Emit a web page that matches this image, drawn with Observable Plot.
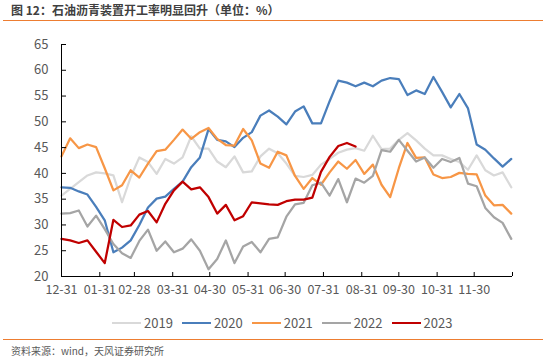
<!DOCTYPE html>
<html><head><meta charset="utf-8">
<script src="https://cdn.jsdelivr.net/npm/d3@7"></script>
<script src="https://cdn.jsdelivr.net/npm/@observablehq/plot@0.6"></script>
<style>
body{margin:0;background:#fff;font-family:"Noto Sans CJK SC","Noto Sans",sans-serif;}
#wrap{position:relative;width:546px;height:359px;overflow:hidden;background:#fff;}
#title{position:absolute;left:11px;top:1px;font-size:12px;font-weight:bold;color:#404040;white-space:nowrap;}
.hr{position:absolute;left:3px;width:540px;height:0;border-top:1.5px solid #ed7d31;}
#chart{position:absolute;left:0;top:0;}
#legend{position:absolute;left:112px;top:313px;display:flex;font-size:13px;color:#595959;white-space:nowrap;}
.item{display:flex;align-items:center;margin-right:9px;}
.sw{width:29px;height:0;border-top:2.5px solid;margin-right:3px;}
#source{position:absolute;left:11px;top:343px;font-size:10px;color:#595959;white-space:nowrap;}
</style>
</head><body>
<div id="wrap">
  <div id="title">图 12：石油沥青装置开工率明显回升（单位：%）</div>
  <div class="hr" style="top:20px"></div>
  <div id="chart"></div>
  <div id="legend"></div>
  <div class="hr" style="top:339px"></div>
  <div id="source">资料来源：wind，天风证券研究所</div>
</div>
<script>
const years = ["2019", "2020", "2021", "2022", "2023"];
const colors = ["#d9d9d9", "#4a7ebb", "#f79646", "#a5a5a5", "#c00000"];

const v2019 = [35.7, 37.0, 38.3, 39.6, 40.2, 40.0, 39.6, 34.4, 39.3, 43.1, 42.2, 39.9, 42.8, 41.9, 43.1, 47.2, 44.8, 44.8, 42.3, 41.2, 43.3, 40.2, 40.4, 43.3, 44.8, 43.9, 41.9, 39.5, 39.3, 39.7, 41.7, 42.8, 44.0, 44.6, 44.9, 44.4, 47.3, 44.7, 44.8, 46.5, 47.8, 46.4, 44.8, 43.5, 43.5, 42.8, 42.2, 40.7, 43.5, 40.6, 39.6, 40.2, 37.3];
const v2020 = [37.3, 37.2, 36.5, 35.9, 33.5, 30.9, 24.7, 25.6, 27.0, 30.0, 33.4, 35.1, 35.5, 37.0, 38.4, 41.2, 43.1, 48.6, 46.5, 46.2, 45.1, 46.9, 48.0, 51.2, 52.2, 51.0, 49.5, 52.0, 53.0, 49.7, 49.7, 54.0, 58.0, 57.6, 56.9, 57.6, 56.9, 58.0, 58.5, 58.3, 55.2, 56.1, 55.4, 58.7, 55.8, 52.8, 55.4, 52.6, 45.6, 44.6, 42.9, 41.3, 42.8];
const v2021 = [43.3, 46.8, 44.9, 45.6, 45.1, 41.0, 36.7, 37.7, 40.6, 39.2, 41.9, 44.3, 44.6, 46.5, 48.5, 46.7, 48.0, 48.8, 46.7, 45.5, 45.4, 48.6, 46.4, 41.9, 41.1, 44.2, 43.5, 39.5, 37.0, 39.1, 37.8, 40.2, 42.3, 40.9, 42.6, 39.9, 41.7, 37.8, 35.4, 41.0, 45.9, 43.0, 43.1, 39.8, 39.1, 39.3, 40.1, 39.9, 39.8, 35.7, 33.8, 33.9, 32.2];
const v2022 = [32.2, 32.3, 32.8, 29.7, 31.8, 29.2, 26.3, 24.5, 23.6, 26.9, 29.1, 25.0, 26.8, 24.7, 25.4, 27.2, 25.0, 21.4, 23.4, 27.0, 22.6, 25.8, 26.7, 24.7, 27.3, 27.6, 31.6, 34.0, 34.3, 37.7, 38.2, 35.7, 38.9, 34.4, 39.0, 38.2, 39.5, 44.5, 44.2, 46.5, 44.4, 42.3, 43.1, 41.1, 42.8, 42.2, 43.0, 38.0, 37.5, 33.3, 31.5, 30.4, 27.3];
const v2023 = [27.3, 27.0, 26.5, 27.0, 24.8, 22.6, 31.0, 29.6, 29.9, 32.0, 32.7, 30.5, 34.1, 36.7, 38.4, 36.9, 37.3, 35.4, 32.2, 33.9, 30.9, 31.7, 34.4, 34.2, 34.0, 33.9, 34.6, 34.9, 34.9, 35.3, 40.3, 43.2, 45.3, 45.9, 45.2];

const xTickDates = ["2022-12-31", "2023-01-31", "2023-02-28", "2023-03-31", "2023-04-30", "2023-05-31", "2023-06-30", "2023-07-31", "2023-08-31", "2023-09-30", "2023-10-31", "2023-11-30", "2023-12-31"];
const xTickLabels = ["12-31", "01-31", "02-28", "03-31", "04-30", "05-31", "06-30", "07-31", "08-31", "09-30", "10-31", "11-30", ""];
const yTicks = [20, 25, 30, 35, 40, 45, 50, 55, 60, 65];

const start = new Date("2022-12-31T00:00:00Z");
const weekDate = i => new Date(start.getTime() + i * 7 * 864e5);
const seriesValues = [v2019, v2020, v2021, v2022, v2023];
const rows = [];
seriesValues.forEach((vals, k) => vals.forEach((v, i) => rows.push({year: years[k], date: weekDate(i), value: v})));
const xTicks = xTickDates.map(s => new Date(s + "T00:00:00Z"));

const W = 546, H = 300, mL = 61, mR = 34, mT = 44, mB = 24;
const plotW = W - mL - mR, plotH = H - mT - mB;

const chart = Plot.plot({
  width: W, height: H,
  marginLeft: mL, marginRight: mR, marginTop: mT, marginBottom: mB,
  style: {fontFamily: '"Noto Sans CJK SC","Noto Sans",sans-serif', fontSize: "13px", background: "transparent"},
  x: {type: "utc", domain: [xTicks[0], xTicks[xTicks.length - 1]]},
  y: {domain: [20, 65]},
  color: {domain: years, range: colors},
  marks: [
    Plot.axisY({ticks: yTicks, tickSize: 0, tickPadding: 13, label: null, color: "#595959", fontSize: 13}),
    Plot.axisX({ticks: xTicks, tickSize: 0, tickPadding: 9, label: null, color: "#595959", fontSize: 12.5,
      tickFormat: d => xTickLabels[xTicks.findIndex(t => +t === +d)]}),
    Plot.line(rows, {x: "date", y: "value", z: "year", stroke: "year", strokeWidth: 2.25, curve: "linear"}),
    Plot.ruleY([20], {stroke: "#000", strokeWidth: 1}),
    Plot.ruleX([xTicks[0]], {stroke: "#000", strokeWidth: 1}),
    Plot.tickY(yTicks, {y: d => d, stroke: "#000", insetRight: plotW - 5}),
    Plot.tickX(xTicks, {x: d => d, stroke: "#000", insetTop: plotH - 4})
  ]
});
document.getElementById("chart").appendChild(chart);

const legend = document.getElementById("legend");
years.forEach((y, k) => {
  const it = document.createElement("div");
  it.className = "item";
  it.innerHTML = `<span class="sw" style="border-color:${colors[k]}"></span><span>${y}</span>`;
  legend.appendChild(it);
});
</script>
</body></html>
